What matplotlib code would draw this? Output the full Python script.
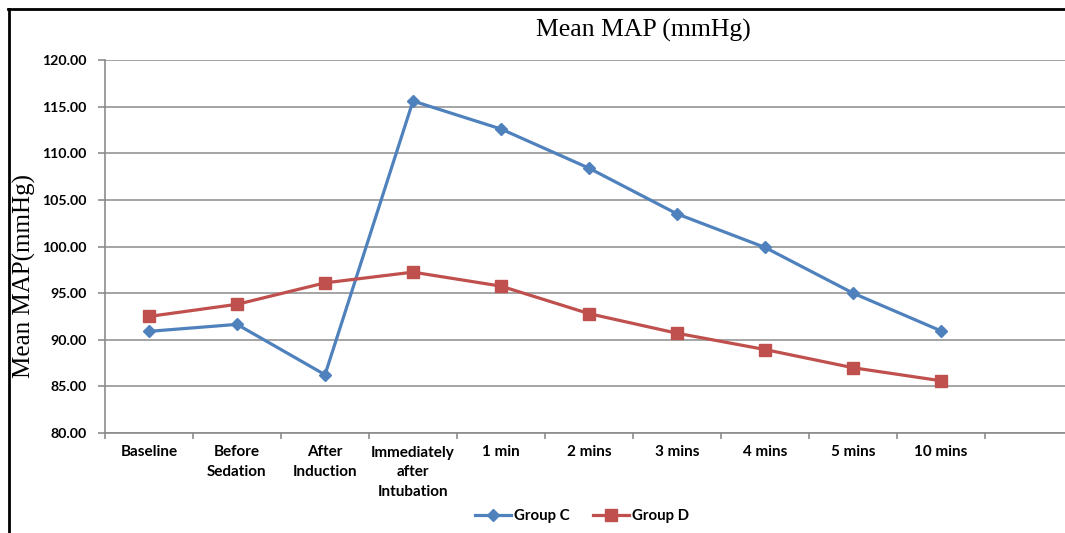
import numpy as np
import matplotlib
matplotlib.use("Agg")
import matplotlib.pyplot as plt
import matplotlib.lines as lines
import matplotlib.ticker as ticker

categories = ["Baseline", "Before\nSedation", "After\nInduction", "Immediately\nafter\nIntubation",
              "1 min", "2 mins", "3 mins", "4 mins", "5 mins", "10 mins"]
group_c = [90.9, 91.65, 86.25, 115.6, 112.6, 108.4, 103.5, 99.9, 95.0, 90.95]
group_d = [92.5, 93.8, 96.1, 97.25, 95.75, 92.8, 90.7, 88.95, 87.0, 85.6]
yticks = [80, 85, 90, 95, 100, 105, 110, 115, 120]

lab_font = "Lato"
serif = "Liberation Serif"
grey = "#8c8c8c"

fig = plt.figure(figsize=(10.65, 5.33), dpi=100)
ax = fig.add_axes([105/1065, 100/533, 960/1065, 373/533])

x = np.arange(len(categories))
ax.plot(x, group_c, '-', color='#4F81BD', lw=2.3, marker='D', ms=6.5, label='Group C', zorder=3)
ax.plot(x, group_d, '-', color='#C0504D', lw=2.3, marker='s', ms=8, label='Group D', zorder=3)

ax.set_ylim(80, 120)
ax.set_xlim(-0.5, -0.5 + 960/88)
ax.yaxis.set_major_locator(ticker.FixedLocator(yticks))
ax.yaxis.set_major_formatter(ticker.FormatStrFormatter("%.2f"))
ax.grid(axis='y', color=grey, lw=1.1)
ax.set_axisbelow(True)

# category boundaries as ticks, names in between
ax.xaxis.set_major_locator(ticker.FixedLocator(np.arange(-0.5, 10.0, 1.0)))
ax.xaxis.set_major_formatter(ticker.NullFormatter())
ax.xaxis.set_minor_locator(ticker.FixedLocator(x))
ax.xaxis.set_minor_formatter(ticker.FixedFormatter(categories))
ax.tick_params(axis='x', which='major', length=4, color=grey, width=1.2, direction='out')
ax.tick_params(axis='x', which='minor', length=0, pad=9)
ax.tick_params(axis='y', length=5, color=grey, width=1.2, pad=8)
for t in ax.get_xticklabels(minor=True):
    t.set_fontfamily(lab_font); t.set_fontweight('bold'); t.set_fontsize(11)
    t.set_va('top'); t.set_linespacing(1.5)
for t in ax.get_yticklabels():
    t.set_fontfamily(lab_font); t.set_fontweight('bold'); t.set_fontsize(10.2)

for s in ['top', 'right']:
    ax.spines[s].set_visible(False)
for s in ['left', 'bottom']:
    ax.spines[s].set_color(grey)
    ax.spines[s].set_linewidth(1.2)

ax.set_ylabel("Mean MAP(mmHg)", family=serif, fontsize=18, va='center')
ax.yaxis.set_label_coords(-0.084, 0.42)
fig.text(643/1065, 1 - 30/533, "Mean MAP (mmHg)", family=serif, fontsize=18.5,
         ha='center', va='center')

leg = fig.legend(loc='center', bbox_to_anchor=(582/1065, 1 - 516/533), ncol=2, frameon=False,
                 prop={'family': lab_font, 'weight': 'bold', 'size': 10.8},
                 handlelength=2.4, handletextpad=0.2, columnspacing=1.6)

# outer frame (top and left edges)
fig.add_artist(lines.Line2D([8/1065, 1], [1 - 9/533, 1 - 9/533], color='black', lw=2))
fig.add_artist(lines.Line2D([9/1065, 9/1065], [0, 1 - 9/533], color='black', lw=2))

plt.savefig('out.png', dpi=100)
plt.close()
